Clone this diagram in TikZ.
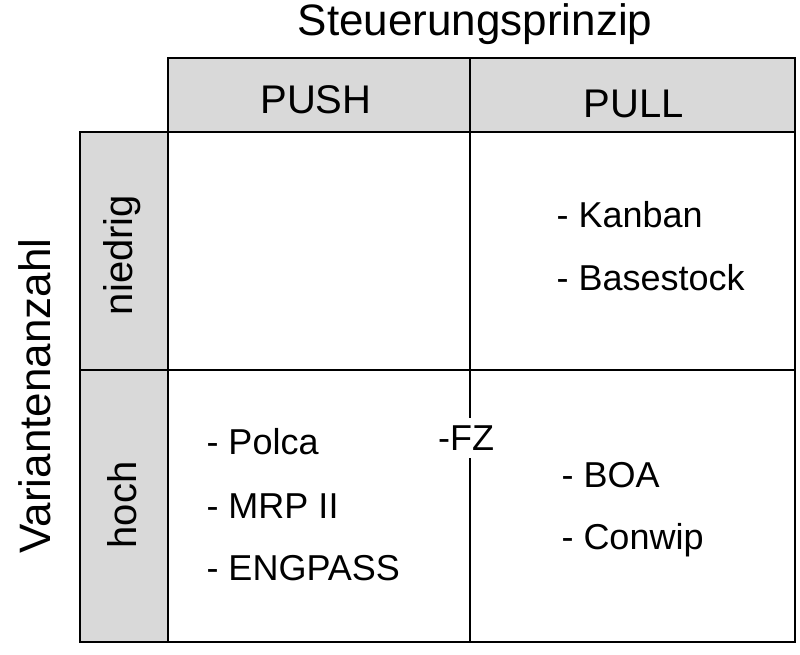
\documentclass[tikz,border=0pt]{standalone}
\usepackage{fontspec}
\setmainfont{Liberation Sans}
\begin{document}
\begin{tikzpicture}[x=1pt,y=-1pt,
  ln/.style={line width=2pt,black},
  hd/.style={fill=gray!30,draw=black,line width=2pt},
  big/.style={font=\fontsize{44}{44}\selectfont},
  mid/.style={font=\fontsize{40}{40}\selectfont},
  itm/.style={font=\fontsize{36}{36}\selectfont,anchor=west}]
\useasboundingbox (0,0) rectangle (800,654);
\path[hd] (168,58) rectangle (795,132);
\path[hd] (80,132) rectangle (168,642);
\draw[ln] (168,132) rectangle (795,642);
\draw[ln] (80,370) -- (795,370);
\coordinate (t) at (470,58);
\coordinate (g1) at (470,418);
\coordinate (g2) at (470,458);
\coordinate (b) at (470,642);
\draw[ln] (t) -- (g1);
\draw[ln] (g2) -- (b);
\node[big] (title) at (475,24) {Steuerungsprinzip};
\node[mid] (push) at (316,100) {PUSH};
\node[mid] (pull) at (634,104) {PULL};
\node[mid,rotate=90] (nied) at (122,255) {niedrig};
\node[mid,rotate=90] (hoch) at (122,505) {hoch};
\node[big,rotate=90] (var) at (35,396) {Variantenanzahl};
\node[itm] (k) at (553,215) {- Kanban};
\node[itm] (bs) at (553,278) {- Basestock};
\node[itm] (p) at (203,442) {- Polca};
\node[itm] (m) at (203,506) {- MRP II};
\node[itm] (e) at (203,568) {- ENGPASS};
\node[itm] (boa) at (558,475) {- BOA};
\node[itm] (c) at (558,540) {- Conwip};
\node[font=\fontsize{36}{36}\selectfont] (fz) at (466,438) {-FZ};
\end{tikzpicture}
\end{document}
